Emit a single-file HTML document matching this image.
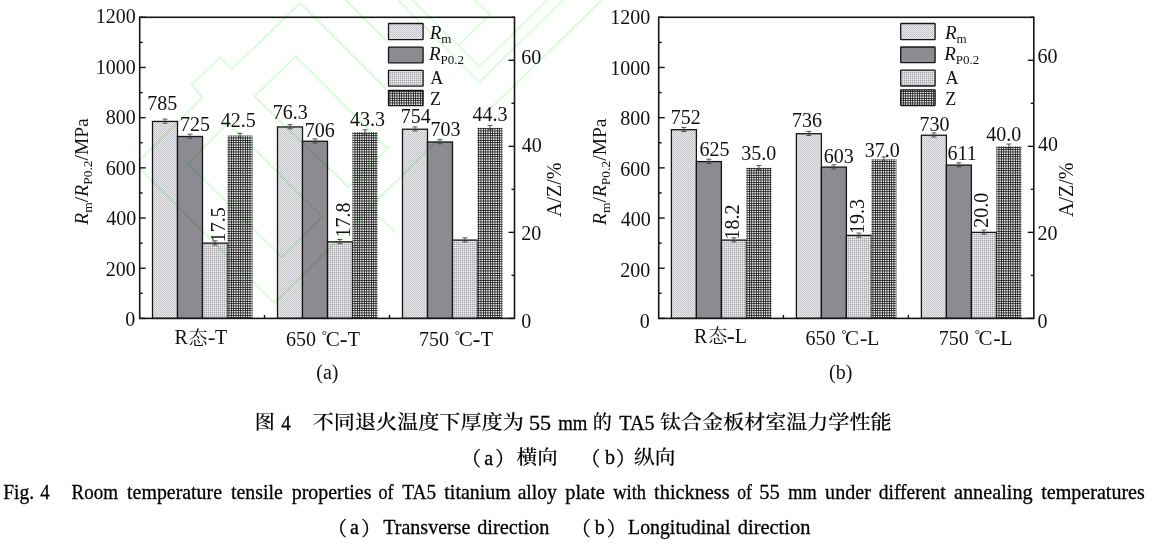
<!DOCTYPE html>
<html><head><meta charset="utf-8"><title>Fig. 4</title>
<style>html,body{margin:0;padding:0;background:#fff;} body{width:1154px;height:544px;overflow:hidden;} svg{display:block;}</style>
</head><body>
<svg width="1154" height="544" viewBox="0 0 1154 544">

<defs>
 <pattern id="pRm" width="2" height="2" patternUnits="userSpaceOnUse">
  <rect width="2" height="2" fill="#e4e4e6"/><rect width="1" height="1" fill="#c4c4c8"/><rect x="1" y="1" width="1" height="1" fill="#d0d0d4"/>
 </pattern>
 <pattern id="pA" width="2" height="2" patternUnits="userSpaceOnUse">
  <rect width="2" height="2" fill="#d0d0d4"/><rect width="1" height="1" fill="#a8a8ac"/><rect x="1" y="1" width="1" height="1" fill="#ececee"/>
 </pattern>
 <pattern id="pZ" width="7" height="7" patternUnits="userSpaceOnUse"><rect x="0" y="0" width="1" height="1" fill="rgb(29,29,29)"/><rect x="1" y="0" width="1" height="1" fill="rgb(71,71,71)"/><rect x="2" y="0" width="1" height="1" fill="rgb(31,31,31)"/><rect x="3" y="0" width="1" height="1" fill="rgb(69,69,69)"/><rect x="4" y="0" width="1" height="1" fill="rgb(47,47,47)"/><rect x="5" y="0" width="1" height="1" fill="rgb(52,52,52)"/><rect x="6" y="0" width="1" height="1" fill="rgb(69,69,69)"/><rect x="0" y="1" width="1" height="1" fill="rgb(71,71,71)"/><rect x="1" y="1" width="1" height="1" fill="rgb(236,236,236)"/><rect x="2" y="1" width="1" height="1" fill="rgb(79,79,79)"/><rect x="3" y="1" width="1" height="1" fill="rgb(230,230,230)"/><rect x="4" y="1" width="1" height="1" fill="rgb(143,143,143)"/><rect x="5" y="1" width="1" height="1" fill="rgb(162,162,162)"/><rect x="6" y="1" width="1" height="1" fill="rgb(230,230,230)"/><rect x="0" y="2" width="1" height="1" fill="rgb(31,31,31)"/><rect x="1" y="2" width="1" height="1" fill="rgb(79,79,79)"/><rect x="2" y="2" width="1" height="1" fill="rgb(34,34,34)"/><rect x="3" y="2" width="1" height="1" fill="rgb(78,78,78)"/><rect x="4" y="2" width="1" height="1" fill="rgb(52,52,52)"/><rect x="5" y="2" width="1" height="1" fill="rgb(58,58,58)"/><rect x="6" y="2" width="1" height="1" fill="rgb(78,78,78)"/><rect x="0" y="3" width="1" height="1" fill="rgb(69,69,69)"/><rect x="1" y="3" width="1" height="1" fill="rgb(230,230,230)"/><rect x="2" y="3" width="1" height="1" fill="rgb(78,78,78)"/><rect x="3" y="3" width="1" height="1" fill="rgb(225,225,225)"/><rect x="4" y="3" width="1" height="1" fill="rgb(140,140,140)"/><rect x="5" y="3" width="1" height="1" fill="rgb(158,158,158)"/><rect x="6" y="3" width="1" height="1" fill="rgb(225,225,225)"/><rect x="0" y="4" width="1" height="1" fill="rgb(47,47,47)"/><rect x="1" y="4" width="1" height="1" fill="rgb(143,143,143)"/><rect x="2" y="4" width="1" height="1" fill="rgb(52,52,52)"/><rect x="3" y="4" width="1" height="1" fill="rgb(140,140,140)"/><rect x="4" y="4" width="1" height="1" fill="rgb(90,90,90)"/><rect x="5" y="4" width="1" height="1" fill="rgb(100,100,100)"/><rect x="6" y="4" width="1" height="1" fill="rgb(140,140,140)"/><rect x="0" y="5" width="1" height="1" fill="rgb(52,52,52)"/><rect x="1" y="5" width="1" height="1" fill="rgb(162,162,162)"/><rect x="2" y="5" width="1" height="1" fill="rgb(58,58,58)"/><rect x="3" y="5" width="1" height="1" fill="rgb(158,158,158)"/><rect x="4" y="5" width="1" height="1" fill="rgb(100,100,100)"/><rect x="5" y="5" width="1" height="1" fill="rgb(113,113,113)"/><rect x="6" y="5" width="1" height="1" fill="rgb(158,158,158)"/><rect x="0" y="6" width="1" height="1" fill="rgb(69,69,69)"/><rect x="1" y="6" width="1" height="1" fill="rgb(230,230,230)"/><rect x="2" y="6" width="1" height="1" fill="rgb(78,78,78)"/><rect x="3" y="6" width="1" height="1" fill="rgb(225,225,225)"/><rect x="4" y="6" width="1" height="1" fill="rgb(140,140,140)"/><rect x="5" y="6" width="1" height="1" fill="rgb(158,158,158)"/><rect x="6" y="6" width="1" height="1" fill="rgb(225,225,225)"/></pattern>
</defs>
<rect width="1154" height="544" fill="#fff"/>
<rect x="152.50" y="121.43" width="25" height="196.97" fill="url(#pRm)" stroke="#151515" stroke-width="1.3"/><path d="M162.50 119.13h5M165.00 119.13V123.23M162.50 123.23h5" stroke="#444" stroke-width="0.9" fill="none"/><rect x="177.50" y="136.49" width="25" height="181.91" fill="#8c8b92" stroke="#151515" stroke-width="1.3"/><path d="M187.50 134.19h5M190.00 134.19V138.29M187.50 138.29h5" stroke="#444" stroke-width="0.9" fill="none"/><rect x="202.50" y="243.12" width="25" height="75.27" fill="url(#pA)" stroke="#151515" stroke-width="1.3"/><path d="M212.50 240.82h5M215.00 240.82V244.93M212.50 244.93h5" stroke="#444" stroke-width="0.9" fill="none"/><rect x="227.50" y="135.59" width="25" height="182.81" fill="url(#pZ)" stroke="none"/><path d="M237.50 133.29h5M240.00 133.29V137.39M237.50 137.39h5" stroke="#444" stroke-width="0.9" fill="none"/><rect x="277.50" y="126.95" width="25" height="191.45" fill="url(#pRm)" stroke="#151515" stroke-width="1.3"/><path d="M287.50 124.65h5M290.00 124.65V128.75M287.50 128.75h5" stroke="#444" stroke-width="0.9" fill="none"/><rect x="302.50" y="141.25" width="25" height="177.15" fill="#8c8b92" stroke="#151515" stroke-width="1.3"/><path d="M312.50 138.95h5M315.00 138.95V143.05M312.50 143.05h5" stroke="#444" stroke-width="0.9" fill="none"/><rect x="327.50" y="241.83" width="25" height="76.57" fill="url(#pA)" stroke="#151515" stroke-width="1.3"/><path d="M337.50 239.53h5M340.00 239.53V243.63M337.50 243.63h5" stroke="#444" stroke-width="0.9" fill="none"/><rect x="352.50" y="132.15" width="25" height="186.25" fill="url(#pZ)" stroke="none"/><path d="M362.50 129.85h5M365.00 129.85V133.95M362.50 133.95h5" stroke="#444" stroke-width="0.9" fill="none"/><rect x="402.50" y="129.21" width="25" height="189.19" fill="url(#pRm)" stroke="#151515" stroke-width="1.3"/><path d="M412.50 126.91h5M415.00 126.91V131.01M412.50 131.01h5" stroke="#444" stroke-width="0.9" fill="none"/><rect x="427.50" y="142.01" width="25" height="176.39" fill="#8c8b92" stroke="#151515" stroke-width="1.3"/><path d="M437.50 139.71h5M440.00 139.71V143.81M437.50 143.81h5" stroke="#444" stroke-width="0.9" fill="none"/><rect x="452.50" y="240.11" width="25" height="78.29" fill="url(#pA)" stroke="#151515" stroke-width="1.3"/><path d="M462.50 237.81h5M465.00 237.81V241.91M462.50 241.91h5" stroke="#444" stroke-width="0.9" fill="none"/><rect x="477.50" y="127.85" width="25" height="190.55" fill="url(#pZ)" stroke="none"/><path d="M487.50 125.55h5M490.00 125.55V129.65M487.50 129.65h5" stroke="#444" stroke-width="0.9" fill="none"/><rect x="139.7" y="17.3" width="374.80" height="301.10" fill="none" stroke="#151515" stroke-width="1.6"/><path d="M139.7 318.40h6" stroke="#151515" stroke-width="1.4"/><path d="M139.7 293.31h3" stroke="#151515" stroke-width="1.4"/><path d="M139.7 268.22h6" stroke="#151515" stroke-width="1.4"/><path d="M139.7 243.12h3" stroke="#151515" stroke-width="1.4"/><path d="M139.7 218.03h6" stroke="#151515" stroke-width="1.4"/><path d="M139.7 192.94h3" stroke="#151515" stroke-width="1.4"/><path d="M139.7 167.85h6" stroke="#151515" stroke-width="1.4"/><path d="M139.7 142.76h3" stroke="#151515" stroke-width="1.4"/><path d="M139.7 117.67h6" stroke="#151515" stroke-width="1.4"/><path d="M139.7 92.58h3" stroke="#151515" stroke-width="1.4"/><path d="M139.7 67.48h6" stroke="#151515" stroke-width="1.4"/><path d="M139.7 42.39h3" stroke="#151515" stroke-width="1.4"/><path d="M139.7 17.30h6" stroke="#151515" stroke-width="1.4"/><path d="M514.5 318.40h-6" stroke="#151515" stroke-width="1.4"/><path d="M514.5 275.39h-3" stroke="#151515" stroke-width="1.4"/><path d="M514.5 232.37h-6" stroke="#151515" stroke-width="1.4"/><path d="M514.5 189.36h-3" stroke="#151515" stroke-width="1.4"/><path d="M514.5 146.34h-6" stroke="#151515" stroke-width="1.4"/><path d="M514.5 103.33h-3" stroke="#151515" stroke-width="1.4"/><path d="M514.5 60.31h-6" stroke="#151515" stroke-width="1.4"/><path d="M514.5 17.30h-3" stroke="#151515" stroke-width="1.4"/><path d="M264.50 318.4v-3.5" stroke="#151515" stroke-width="1.4"/><path d="M389.50 318.4v-3.5" stroke="#151515" stroke-width="1.4"/><rect x="388.50" y="23.50" width="34.60" height="16.20" rx="0.4" fill="url(#pRm)" stroke="#151515" stroke-width="1.3"/><rect x="388.50" y="47.10" width="34.60" height="15.70" rx="0.4" fill="#8c8b92" stroke="#151515" stroke-width="1.3"/><rect x="388.50" y="70.30" width="34.60" height="15.80" rx="0.4" fill="url(#pA)" stroke="#151515" stroke-width="1.3"/><rect x="388.50" y="90.40" width="34.60" height="15.20" rx="0.4" fill="url(#pZ)" stroke="#151515" stroke-width="1.3"/><rect x="671.40" y="129.71" width="25" height="188.69" fill="url(#pRm)" stroke="#151515" stroke-width="1.3"/><path d="M681.40 127.41h5M683.90 127.41V131.51M681.40 131.51h5" stroke="#444" stroke-width="0.9" fill="none"/><rect x="696.40" y="161.58" width="25" height="156.82" fill="#8c8b92" stroke="#151515" stroke-width="1.3"/><path d="M706.40 159.28h5M708.90 159.28V163.38M706.40 163.38h5" stroke="#444" stroke-width="0.9" fill="none"/><rect x="721.40" y="240.11" width="25" height="78.29" fill="url(#pA)" stroke="#151515" stroke-width="1.3"/><path d="M731.40 237.81h5M733.90 237.81V241.91M731.40 241.91h5" stroke="#444" stroke-width="0.9" fill="none"/><rect x="746.40" y="167.85" width="25" height="150.55" fill="url(#pZ)" stroke="none"/><path d="M756.40 165.55h5M758.90 165.55V169.65M756.40 169.65h5" stroke="#444" stroke-width="0.9" fill="none"/><rect x="796.40" y="133.73" width="25" height="184.67" fill="url(#pRm)" stroke="#151515" stroke-width="1.3"/><path d="M806.40 131.43h5M808.90 131.43V135.53M806.40 135.53h5" stroke="#444" stroke-width="0.9" fill="none"/><rect x="821.40" y="167.10" width="25" height="151.30" fill="#8c8b92" stroke="#151515" stroke-width="1.3"/><path d="M831.40 164.80h5M833.90 164.80V168.90M831.40 168.90h5" stroke="#444" stroke-width="0.9" fill="none"/><rect x="846.40" y="235.38" width="25" height="83.02" fill="url(#pA)" stroke="#151515" stroke-width="1.3"/><path d="M856.40 233.08h5M858.90 233.08V237.18M856.40 237.18h5" stroke="#444" stroke-width="0.9" fill="none"/><rect x="871.40" y="159.25" width="25" height="159.15" fill="url(#pZ)" stroke="none"/><path d="M881.40 156.95h5M883.90 156.95V161.05M881.40 161.05h5" stroke="#444" stroke-width="0.9" fill="none"/><rect x="921.40" y="135.23" width="25" height="183.17" fill="url(#pRm)" stroke="#151515" stroke-width="1.3"/><path d="M931.40 132.93h5M933.90 132.93V137.03M931.40 137.03h5" stroke="#444" stroke-width="0.9" fill="none"/><rect x="946.40" y="165.09" width="25" height="153.31" fill="#8c8b92" stroke="#151515" stroke-width="1.3"/><path d="M956.40 162.79h5M958.90 162.79V166.89M956.40 166.89h5" stroke="#444" stroke-width="0.9" fill="none"/><rect x="971.40" y="232.37" width="25" height="86.03" fill="url(#pA)" stroke="#151515" stroke-width="1.3"/><path d="M981.40 230.07h5M983.90 230.07V234.17M981.40 234.17h5" stroke="#444" stroke-width="0.9" fill="none"/><rect x="996.40" y="146.34" width="25" height="172.06" fill="url(#pZ)" stroke="none"/><path d="M1006.40 144.04h5M1008.90 144.04V148.14M1006.40 148.14h5" stroke="#444" stroke-width="0.9" fill="none"/><rect x="658.7" y="17.3" width="375.10" height="301.10" fill="none" stroke="#151515" stroke-width="1.6"/><path d="M658.7 318.40h6" stroke="#151515" stroke-width="1.4"/><path d="M658.7 293.31h3" stroke="#151515" stroke-width="1.4"/><path d="M658.7 268.22h6" stroke="#151515" stroke-width="1.4"/><path d="M658.7 243.12h3" stroke="#151515" stroke-width="1.4"/><path d="M658.7 218.03h6" stroke="#151515" stroke-width="1.4"/><path d="M658.7 192.94h3" stroke="#151515" stroke-width="1.4"/><path d="M658.7 167.85h6" stroke="#151515" stroke-width="1.4"/><path d="M658.7 142.76h3" stroke="#151515" stroke-width="1.4"/><path d="M658.7 117.67h6" stroke="#151515" stroke-width="1.4"/><path d="M658.7 92.58h3" stroke="#151515" stroke-width="1.4"/><path d="M658.7 67.48h6" stroke="#151515" stroke-width="1.4"/><path d="M658.7 42.39h3" stroke="#151515" stroke-width="1.4"/><path d="M658.7 17.30h6" stroke="#151515" stroke-width="1.4"/><path d="M1033.8 318.40h-6" stroke="#151515" stroke-width="1.4"/><path d="M1033.8 275.39h-3" stroke="#151515" stroke-width="1.4"/><path d="M1033.8 232.37h-6" stroke="#151515" stroke-width="1.4"/><path d="M1033.8 189.36h-3" stroke="#151515" stroke-width="1.4"/><path d="M1033.8 146.34h-6" stroke="#151515" stroke-width="1.4"/><path d="M1033.8 103.33h-3" stroke="#151515" stroke-width="1.4"/><path d="M1033.8 60.31h-6" stroke="#151515" stroke-width="1.4"/><path d="M1033.8 17.30h-3" stroke="#151515" stroke-width="1.4"/><path d="M783.40 318.4v-3.5" stroke="#151515" stroke-width="1.4"/><path d="M908.40 318.4v-3.5" stroke="#151515" stroke-width="1.4"/><rect x="900.70" y="23.50" width="34.40" height="16.20" rx="0.4" fill="url(#pRm)" stroke="#151515" stroke-width="1.3"/><rect x="900.70" y="47.00" width="34.40" height="15.70" rx="0.4" fill="#8c8b92" stroke="#151515" stroke-width="1.3"/><rect x="900.70" y="70.10" width="34.40" height="15.90" rx="0.4" fill="url(#pA)" stroke="#151515" stroke-width="1.3"/><rect x="900.70" y="89.80" width="34.40" height="15.70" rx="0.4" fill="url(#pZ)" stroke="#151515" stroke-width="1.3"/>
<g fill="none" stroke="#dcfadc" stroke-width="2" stroke-linejoin="miter" style="mix-blend-mode:multiply"><polyline points="140.0,160.0 202.5,97.5 191.6,84.4 220.6,57.2 231.6,69.4 300.3,3.1 388.0,90.8"/><polyline points="139.7,168.2 274.6,303.1 440.0,137.7"/><polyline points="388.0,148.7 295.6,56.3 254.5,96.5 348.6,187.0 390.0,145.6"/><polyline points="187.9,163.2 228.2,122.9 322.2,216.9 281.9,257.2 187.9,163.2"/><polyline points="345.5,0.0 388.0,42.5"/><polyline points="395.0,181.8 369.7,207.1 395.0,232.4"/><polyline points="398.0,0.0 479.4,81.9 563.0,0.0"/><polyline points="412.3,0.0 479.4,66.7 547.2,0.0"/><polyline points="474.4,0.0 490.6,14.2 458.2,45.5"/><polyline points="488.5,110.5 602.0,0.0"/></g>
<g fill="#111">
<g transform="translate(125.14,326.40)"><text font-family="'Liberation Serif', 'Times New Roman', serif" font-size="20" >0</text></g>
<g transform="translate(105.81,275.89)"><text font-family="'Liberation Serif', 'Times New Roman', serif" font-size="20" >200</text></g>
<g transform="translate(106.31,225.38)"><text font-family="'Liberation Serif', 'Times New Roman', serif" font-size="20" >400</text></g>
<g transform="translate(105.81,174.87)"><text font-family="'Liberation Serif', 'Times New Roman', serif" font-size="20" >600</text></g>
<g transform="translate(105.81,124.37)"><text font-family="'Liberation Serif', 'Times New Roman', serif" font-size="20" >800</text></g>
<g transform="translate(95.65,73.86)"><text font-family="'Liberation Serif', 'Times New Roman', serif" font-size="20" >1000</text></g>
<g transform="translate(95.65,23.35)"><text font-family="'Liberation Serif', 'Times New Roman', serif" font-size="20" >1200</text></g>
<g transform="translate(521.15,328.20)"><text font-family="'Liberation Serif', 'Times New Roman', serif" font-size="20" >0</text></g>
<g transform="translate(521.15,240.14)"><text font-family="'Liberation Serif', 'Times New Roman', serif" font-size="20" >20</text></g>
<g transform="translate(521.65,152.08)"><text font-family="'Liberation Serif', 'Times New Roman', serif" font-size="20" >40</text></g>
<g transform="translate(521.15,64.02)"><text font-family="'Liberation Serif', 'Times New Roman', serif" font-size="20" >60</text></g>
<g transform="translate(639.64,327.50)"><text font-family="'Liberation Serif', 'Times New Roman', serif" font-size="20" >0</text></g>
<g transform="translate(620.31,276.93)"><text font-family="'Liberation Serif', 'Times New Roman', serif" font-size="20" >200</text></g>
<g transform="translate(620.81,226.37)"><text font-family="'Liberation Serif', 'Times New Roman', serif" font-size="20" >400</text></g>
<g transform="translate(620.31,175.80)"><text font-family="'Liberation Serif', 'Times New Roman', serif" font-size="20" >600</text></g>
<g transform="translate(620.31,125.23)"><text font-family="'Liberation Serif', 'Times New Roman', serif" font-size="20" >800</text></g>
<g transform="translate(610.15,74.67)"><text font-family="'Liberation Serif', 'Times New Roman', serif" font-size="20" >1000</text></g>
<g transform="translate(610.15,24.10)"><text font-family="'Liberation Serif', 'Times New Roman', serif" font-size="20" >1200</text></g>
<g transform="translate(1037.55,328.00)"><text font-family="'Liberation Serif', 'Times New Roman', serif" font-size="20" >0</text></g>
<g transform="translate(1037.55,239.74)"><text font-family="'Liberation Serif', 'Times New Roman', serif" font-size="20" >20</text></g>
<g transform="translate(1038.05,151.48)"><text font-family="'Liberation Serif', 'Times New Roman', serif" font-size="20" >40</text></g>
<g transform="translate(1037.55,63.22)"><text font-family="'Liberation Serif', 'Times New Roman', serif" font-size="20" >60</text></g>
<g transform="translate(88.20,224.65)"><text font-family="'Liberation Serif', 'Times New Roman', serif" font-size="19.5" transform="rotate(-90)" ><tspan font-style="italic">R</tspan><tspan font-size="13.5" dy="3.5">m</tspan><tspan dy="-3.5">/</tspan><tspan font-style="italic">R</tspan><tspan font-size="13.5" dy="3.5">P0.2</tspan><tspan dy="-3.5">/MPa</tspan></text></g>
<g transform="translate(606.30,224.95)"><text font-family="'Liberation Serif', 'Times New Roman', serif" font-size="19.5" transform="rotate(-90)" ><tspan font-style="italic">R</tspan><tspan font-size="13.5" dy="3.5">m</tspan><tspan dy="-3.5">/</tspan><tspan font-style="italic">R</tspan><tspan font-size="13.5" dy="3.5">P0.2</tspan><tspan dy="-3.5">/MPa</tspan></text></g>
<g transform="translate(560.80,217.05)"><text font-family="'Liberation Serif', 'Times New Roman', serif" font-size="20" transform="rotate(-90)" >A/Z/%</text></g>
<g transform="translate(1073.20,217.05)"><text font-family="'Liberation Serif', 'Times New Roman', serif" font-size="20" transform="rotate(-90)" >A/Z/%</text></g>
<g transform="translate(147.20,109.70)"><text font-family="'Liberation Serif', 'Times New Roman', serif" font-size="20" >785</text></g>
<g transform="translate(180.00,130.90)"><text font-family="'Liberation Serif', 'Times New Roman', serif" font-size="20" >725</text></g>
<g transform="translate(220.75,127.15)"><text font-family="'Liberation Serif', 'Times New Roman', serif" font-size="20" >42.5</text></g>
<g transform="translate(224.90,242.15)"><text font-family="'Liberation Serif', 'Times New Roman', serif" font-size="20" transform="rotate(-90)" >17.5</text></g>
<g transform="translate(272.85,119.30)"><text font-family="'Liberation Serif', 'Times New Roman', serif" font-size="20" >76.3</text></g>
<g transform="translate(304.85,136.70)"><text font-family="'Liberation Serif', 'Times New Roman', serif" font-size="20" >706</text></g>
<g transform="translate(350.05,125.90)"><text font-family="'Liberation Serif', 'Times New Roman', serif" font-size="20" >43.3</text></g>
<g transform="translate(350.00,237.50)"><text font-family="'Liberation Serif', 'Times New Roman', serif" font-size="20" transform="rotate(-90)" >17.8</text></g>
<g transform="translate(400.85,123.35)"><text font-family="'Liberation Serif', 'Times New Roman', serif" font-size="20" >754</text></g>
<g transform="translate(430.60,136.30)"><text font-family="'Liberation Serif', 'Times New Roman', serif" font-size="20" >703</text></g>
<g transform="translate(472.45,120.55)"><text font-family="'Liberation Serif', 'Times New Roman', serif" font-size="20" >44.3</text></g>
<g transform="translate(670.80,123.50)"><text font-family="'Liberation Serif', 'Times New Roman', serif" font-size="20" >752</text></g>
<g transform="translate(699.40,156.00)"><text font-family="'Liberation Serif', 'Times New Roman', serif" font-size="20" >625</text></g>
<g transform="translate(741.35,159.50)"><text font-family="'Liberation Serif', 'Times New Roman', serif" font-size="20" >35.0</text></g>
<g transform="translate(739.05,239.45)"><text font-family="'Liberation Serif', 'Times New Roman', serif" font-size="20" transform="rotate(-90)" >18.2</text></g>
<g transform="translate(791.90,127.30)"><text font-family="'Liberation Serif', 'Times New Roman', serif" font-size="20" >736</text></g>
<g transform="translate(823.80,162.95)"><text font-family="'Liberation Serif', 'Times New Roman', serif" font-size="20" >603</text></g>
<g transform="translate(864.75,156.85)"><text font-family="'Liberation Serif', 'Times New Roman', serif" font-size="20" >37.0</text></g>
<g transform="translate(864.20,234.00)"><text font-family="'Liberation Serif', 'Times New Roman', serif" font-size="20" transform="rotate(-90)" >19.3</text></g>
<g transform="translate(919.60,130.70)"><text font-family="'Liberation Serif', 'Times New Roman', serif" font-size="20" >730</text></g>
<g transform="translate(947.40,160.25)"><text font-family="'Liberation Serif', 'Times New Roman', serif" font-size="20" >611</text></g>
<g transform="translate(986.15,141.20)"><text font-family="'Liberation Serif', 'Times New Roman', serif" font-size="20" >40.0</text></g>
<g transform="translate(988.20,227.70)"><text font-family="'Liberation Serif', 'Times New Roman', serif" font-size="20" transform="rotate(-90)" >20.0</text></g>
<g transform="translate(429.65,39.20)"><text font-family="'Liberation Serif', 'Times New Roman', serif" font-size="19" ><tspan font-style="italic">R</tspan><tspan font-size="13" dy="3.5">m</tspan></text></g>
<g transform="translate(428.90,59.90)"><text font-family="'Liberation Serif', 'Times New Roman', serif" font-size="19" ><tspan font-style="italic">R</tspan><tspan font-size="13" dy="3.7">P0.2</tspan></text></g>
<g transform="translate(430.15,83.95)"><text font-family="'Liberation Serif', 'Times New Roman', serif" font-size="18" >A</text></g>
<g transform="translate(429.90,105.35)"><text font-family="'Liberation Serif', 'Times New Roman', serif" font-size="18" >Z</text></g>
<g transform="translate(944.95,39.20)"><text font-family="'Liberation Serif', 'Times New Roman', serif" font-size="19" ><tspan font-style="italic">R</tspan><tspan font-size="13" dy="3.5">m</tspan></text></g>
<g transform="translate(944.20,59.90)"><text font-family="'Liberation Serif', 'Times New Roman', serif" font-size="19" ><tspan font-style="italic">R</tspan><tspan font-size="13" dy="3.7">P0.2</tspan></text></g>
<g transform="translate(945.45,83.95)"><text font-family="'Liberation Serif', 'Times New Roman', serif" font-size="18" >A</text></g>
<g transform="translate(945.20,105.35)"><text font-family="'Liberation Serif', 'Times New Roman', serif" font-size="18" >Z</text></g>
<g transform="translate(174.40,343.90)"><text font-family="'Liberation Serif', 'Times New Roman', serif" font-size="20" >R</text></g>
<g transform="translate(188.50,344.85)"><text font-family="'Noto Serif CJK SC', serif" font-size="19" >态</text></g>
<g transform="translate(207.74,343.70) scale(1.1600,0.9500)"><text font-family="'Liberation Serif', 'Times New Roman', serif" font-size="20" font-weight="bold">-</text></g>
<g transform="translate(215.00,343.90)"><text font-family="'Liberation Serif', 'Times New Roman', serif" font-size="20" >T</text></g>
<g transform="translate(694.05,342.90)"><text font-family="'Liberation Serif', 'Times New Roman', serif" font-size="20" >R</text></g>
<g transform="translate(708.25,343.30)"><text font-family="'Noto Serif CJK SC', serif" font-size="19" >态</text></g>
<g transform="translate(726.68,343.10) scale(1.2200,1.0000)"><text font-family="'Liberation Serif', 'Times New Roman', serif" font-size="20" font-weight="bold">-</text></g>
<g transform="translate(734.65,342.80)"><text font-family="'Liberation Serif', 'Times New Roman', serif" font-size="20" >L</text></g>
<g transform="translate(419.10,346.00)"><text font-family="'Liberation Serif', 'Times New Roman', serif" font-size="20" >750</text></g>
<g transform="translate(454.85,338.95)"><text font-family="'Liberation Serif', 'Times New Roman', serif" font-size="13" >°</text></g>
<g transform="translate(458.85,345.80)"><text font-family="'Liberation Serif', 'Times New Roman', serif" font-size="21" >C</text></g>
<g transform="translate(472.84,345.90) scale(1.1600,1.0000)"><text font-family="'Liberation Serif', 'Times New Roman', serif" font-size="20" font-weight="bold">-</text></g>
<g transform="translate(480.85,345.95)"><text font-family="'Liberation Serif', 'Times New Roman', serif" font-size="20" >T</text></g>
<g transform="translate(286.10,346.00)"><text font-family="'Liberation Serif', 'Times New Roman', serif" font-size="20" >650</text></g>
<g transform="translate(321.85,338.95)"><text font-family="'Liberation Serif', 'Times New Roman', serif" font-size="13" >°</text></g>
<g transform="translate(325.85,345.80)"><text font-family="'Liberation Serif', 'Times New Roman', serif" font-size="21" >C</text></g>
<g transform="translate(339.84,345.90) scale(1.1600,1.0000)"><text font-family="'Liberation Serif', 'Times New Roman', serif" font-size="20" font-weight="bold">-</text></g>
<g transform="translate(347.85,345.95)"><text font-family="'Liberation Serif', 'Times New Roman', serif" font-size="20" >T</text></g>
<g transform="translate(805.45,344.80)"><text font-family="'Liberation Serif', 'Times New Roman', serif" font-size="20" >650</text></g>
<g transform="translate(841.35,338.45)"><text font-family="'Liberation Serif', 'Times New Roman', serif" font-size="13" >°</text></g>
<g transform="translate(845.10,344.80)"><text font-family="'Liberation Serif', 'Times New Roman', serif" font-size="21" >C</text></g>
<g transform="translate(859.98,344.70) scale(1.1200,0.9000)"><text font-family="'Liberation Serif', 'Times New Roman', serif" font-size="20" font-weight="bold">-</text></g>
<g transform="translate(866.90,344.85)"><text font-family="'Liberation Serif', 'Times New Roman', serif" font-size="20" >L</text></g>
<g transform="translate(938.75,344.80)"><text font-family="'Liberation Serif', 'Times New Roman', serif" font-size="20" >750</text></g>
<g transform="translate(974.65,338.45)"><text font-family="'Liberation Serif', 'Times New Roman', serif" font-size="13" >°</text></g>
<g transform="translate(978.40,344.80)"><text font-family="'Liberation Serif', 'Times New Roman', serif" font-size="21" >C</text></g>
<g transform="translate(993.28,344.70) scale(1.1200,0.9000)"><text font-family="'Liberation Serif', 'Times New Roman', serif" font-size="20" font-weight="bold">-</text></g>
<g transform="translate(1000.20,344.85)"><text font-family="'Liberation Serif', 'Times New Roman', serif" font-size="20" >L</text></g>
<g transform="translate(316.25,379.35)"><text font-family="'Liberation Serif', 'Times New Roman', serif" font-size="20" >(a)</text></g>
<g transform="translate(829.05,378.75)"><text font-family="'Liberation Serif', 'Times New Roman', serif" font-size="20" >(b)</text></g>
<g transform="translate(254.84,428.65) scale(1.0312,1.0000)" fill="#000" stroke="#000" stroke-width="0.12"><text font-family="'Noto Serif CJK SC', serif" font-size="19.5" font-weight="500">图</text></g>
<g transform="translate(281.20,429.95) scale(0.9500,1.0000)" fill="#000" stroke="#000" stroke-width="0.3"><text font-family="'Liberation Serif', 'Times New Roman', serif" font-size="20" >4</text></g>
<g transform="translate(312.72,429.15) scale(1.0834,1.0000)" fill="#000" stroke="#000" stroke-width="0.12"><text font-family="'Noto Serif CJK SC', serif" font-size="19.5" font-weight="500">不同退火温度下厚度为</text></g>
<g transform="translate(528.99,429.95) scale(1.1056,1.0000)" fill="#000" stroke="#000" stroke-width="0.3"><text font-family="'Liberation Serif', 'Times New Roman', serif" font-size="20" >55</text></g>
<g transform="translate(558.20,430.15) scale(0.9387,1.0000)" fill="#000" stroke="#000" stroke-width="0.3"><text font-family="'Liberation Serif', 'Times New Roman', serif" font-size="20" >mm</text></g>
<g transform="translate(592.82,429.15) scale(0.9833,1.0000)" fill="#000" stroke="#000" stroke-width="0.12"><text font-family="'Noto Serif CJK SC', serif" font-size="19.5" font-weight="500">的</text></g>
<g transform="translate(619.20,429.95) scale(1.0088,1.0000)" fill="#000" stroke="#000" stroke-width="0.3"><text font-family="'Liberation Serif', 'Times New Roman', serif" font-size="20" >TA5</text></g>
<g transform="translate(660.02,429.15) scale(1.0798,1.0000)" fill="#000" stroke="#000" stroke-width="0.12"><text font-family="'Noto Serif CJK SC', serif" font-size="19.5" font-weight="500">钛合金板材室温力学性能</text></g>
<g transform="translate(461.45,466.30)" fill="#000" stroke="#000" stroke-width="0.3"><text font-family="'Noto Serif CJK SC', serif" font-size="19.5" >（</text></g>
<g transform="translate(484.20,464.55)" fill="#000" stroke="#000" stroke-width="0.3"><text font-family="'Liberation Serif', 'Times New Roman', serif" font-size="20" >a</text></g>
<g transform="translate(495.15,466.30)" fill="#000" stroke="#000" stroke-width="0.3"><text font-family="'Noto Serif CJK SC', serif" font-size="19.5" >）</text></g>
<g transform="translate(516.85,464.45) scale(1.0486,1.0000)" fill="#000" stroke="#000" stroke-width="0.12"><text font-family="'Noto Serif CJK SC', serif" font-size="19.5" font-weight="500">横向</text></g>
<g transform="translate(580.80,466.30)" fill="#000" stroke="#000" stroke-width="0.3"><text font-family="'Noto Serif CJK SC', serif" font-size="19.5" >（</text></g>
<g transform="translate(604.95,463.65)" fill="#000" stroke="#000" stroke-width="0.3"><text font-family="'Liberation Serif', 'Times New Roman', serif" font-size="20" >b</text></g>
<g transform="translate(616.10,466.30)" fill="#000" stroke="#000" stroke-width="0.3"><text font-family="'Noto Serif CJK SC', serif" font-size="19.5" >）</text></g>
<g transform="translate(634.04,464.45) scale(1.0595,1.0000)" fill="#000" stroke="#000" stroke-width="0.12"><text font-family="'Noto Serif CJK SC', serif" font-size="19.5" font-weight="500">纵向</text></g>
<g transform="translate(3.27,499.00) scale(0.9290,1.0000)" fill="#000" stroke="#000" stroke-width="0.3"><text font-family="'Liberation Serif', 'Times New Roman', serif" font-size="21" >Fig.</text></g>
<g transform="translate(40.20,499.00) scale(0.9000,1.0000)" fill="#000" stroke="#000" stroke-width="0.3"><text font-family="'Liberation Serif', 'Times New Roman', serif" font-size="21" >4</text></g>
<g transform="translate(71.60,499.00) scale(0.9040,1.0000)" fill="#000" stroke="#000" stroke-width="0.3"><text font-family="'Liberation Serif', 'Times New Roman', serif" font-size="21" >Room</text></g>
<g transform="translate(127.10,499.00) scale(0.9460,1.0000)" fill="#000" stroke="#000" stroke-width="0.3"><text font-family="'Liberation Serif', 'Times New Roman', serif" font-size="21" >temperature</text></g>
<g transform="translate(231.00,499.00) scale(0.9481,1.0000)" fill="#000" stroke="#000" stroke-width="0.3"><text font-family="'Liberation Serif', 'Times New Roman', serif" font-size="21" >tensile</text></g>
<g transform="translate(291.70,499.00) scale(0.9494,1.0000)" fill="#000" stroke="#000" stroke-width="0.3"><text font-family="'Liberation Serif', 'Times New Roman', serif" font-size="21" >properties</text></g>
<g transform="translate(378.44,499.00) scale(0.8588,1.0000)" fill="#000" stroke="#000" stroke-width="0.3"><text font-family="'Liberation Serif', 'Times New Roman', serif" font-size="21" >of</text></g>
<g transform="translate(402.20,499.00) scale(0.9222,1.0000)" fill="#000" stroke="#000" stroke-width="0.3"><text font-family="'Liberation Serif', 'Times New Roman', serif" font-size="21" >TA5</text></g>
<g transform="translate(444.30,499.00) scale(0.9500,1.0000)" fill="#000" stroke="#000" stroke-width="0.3"><text font-family="'Liberation Serif', 'Times New Roman', serif" font-size="21" >titanium</text></g>
<g transform="translate(517.67,499.00) scale(0.9317,1.0000)" fill="#000" stroke="#000" stroke-width="0.3"><text font-family="'Liberation Serif', 'Times New Roman', serif" font-size="21" >alloy</text></g>
<g transform="translate(565.20,499.00) scale(0.9750,1.0000)" fill="#000" stroke="#000" stroke-width="0.3"><text font-family="'Liberation Serif', 'Times New Roman', serif" font-size="21" >plate</text></g>
<g transform="translate(613.30,499.00) scale(0.8784,1.0000)" fill="#000" stroke="#000" stroke-width="0.3"><text font-family="'Liberation Serif', 'Times New Roman', serif" font-size="21" >with</text></g>
<g transform="translate(654.10,499.00) scale(0.9667,1.0000)" fill="#000" stroke="#000" stroke-width="0.3"><text font-family="'Liberation Serif', 'Times New Roman', serif" font-size="21" >thickness</text></g>
<g transform="translate(737.26,499.00) scale(0.8412,1.0000)" fill="#000" stroke="#000" stroke-width="0.3"><text font-family="'Liberation Serif', 'Times New Roman', serif" font-size="21" >of</text></g>
<g transform="translate(759.22,499.00) scale(0.9842,1.0000)" fill="#000" stroke="#000" stroke-width="0.3"><text font-family="'Liberation Serif', 'Times New Roman', serif" font-size="21" >55</text></g>
<g transform="translate(788.20,499.00) scale(0.8687,1.0000)" fill="#000" stroke="#000" stroke-width="0.3"><text font-family="'Liberation Serif', 'Times New Roman', serif" font-size="21" >mm</text></g>
<g transform="translate(825.10,499.00) scale(0.9583,1.0000)" fill="#000" stroke="#000" stroke-width="0.3"><text font-family="'Liberation Serif', 'Times New Roman', serif" font-size="21" >under</text></g>
<g transform="translate(878.77,499.00) scale(0.9296,1.0000)" fill="#000" stroke="#000" stroke-width="0.3"><text font-family="'Liberation Serif', 'Times New Roman', serif" font-size="21" >different</text></g>
<g transform="translate(954.04,499.00) scale(0.9630,1.0000)" fill="#000" stroke="#000" stroke-width="0.3"><text font-family="'Liberation Serif', 'Times New Roman', serif" font-size="21" >annealing</text></g>
<g transform="translate(1041.30,499.00) scale(0.9546,1.0000)" fill="#000" stroke="#000" stroke-width="0.3"><text font-family="'Liberation Serif', 'Times New Roman', serif" font-size="21" >temperatures</text></g>
<g transform="translate(383.30,533.80) scale(0.9527,1.0000)" fill="#000" stroke="#000" stroke-width="0.3"><text font-family="'Liberation Serif', 'Times New Roman', serif" font-size="21" >Transverse</text></g>
<g transform="translate(477.13,533.80) scale(0.9685,1.0000)" fill="#000" stroke="#000" stroke-width="0.3"><text font-family="'Liberation Serif', 'Times New Roman', serif" font-size="21" >direction</text></g>
<g transform="translate(628.06,533.80) scale(0.9439,1.0000)" fill="#000" stroke="#000" stroke-width="0.3"><text font-family="'Liberation Serif', 'Times New Roman', serif" font-size="21" >Longitudinal</text></g>
<g transform="translate(737.73,533.80) scale(0.9740,1.0000)" fill="#000" stroke="#000" stroke-width="0.3"><text font-family="'Liberation Serif', 'Times New Roman', serif" font-size="21" >direction</text></g>
<g transform="translate(327.40,536.25)" fill="#000" stroke="#000" stroke-width="0.3"><text font-family="'Noto Serif CJK SC', serif" font-size="19.5" >（</text></g>
<g transform="translate(349.90,534.40)" fill="#000" stroke="#000" stroke-width="0.3"><text font-family="'Liberation Serif', 'Times New Roman', serif" font-size="20" >a</text></g>
<g transform="translate(361.15,536.25)" fill="#000" stroke="#000" stroke-width="0.3"><text font-family="'Noto Serif CJK SC', serif" font-size="19.5" >）</text></g>
<g transform="translate(571.20,536.25)" fill="#000" stroke="#000" stroke-width="0.3"><text font-family="'Noto Serif CJK SC', serif" font-size="19.5" >（</text></g>
<g transform="translate(594.80,533.80)" fill="#000" stroke="#000" stroke-width="0.3"><text font-family="'Liberation Serif', 'Times New Roman', serif" font-size="20" >b</text></g>
<g transform="translate(606.75,536.25)" fill="#000" stroke="#000" stroke-width="0.3"><text font-family="'Noto Serif CJK SC', serif" font-size="19.5" >）</text></g>
</g>
</svg>
</body></html>
